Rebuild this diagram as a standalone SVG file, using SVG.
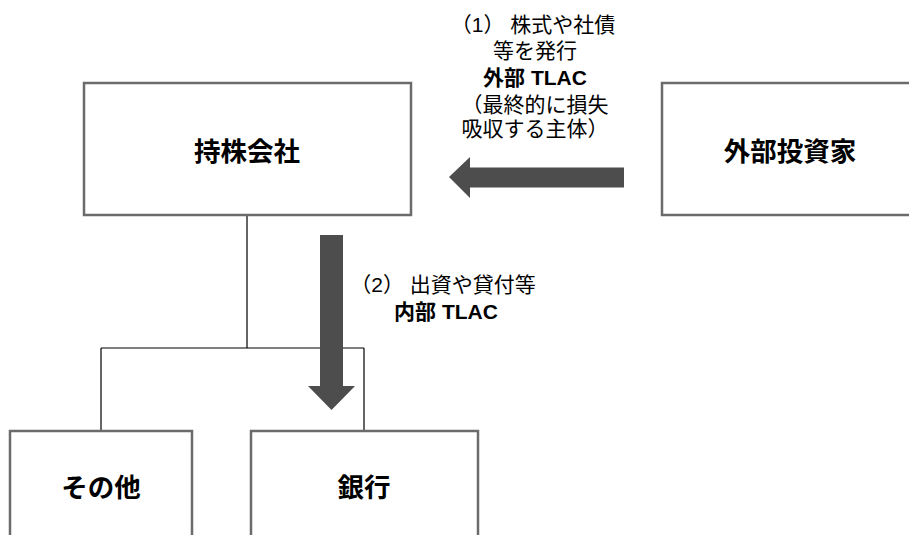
<svg xmlns="http://www.w3.org/2000/svg" width="909" height="535" viewBox="0 0 909 535">
<style>
.box{fill:#fff;stroke:#6b6b6b;stroke-width:2.5}
.lbl{font-family:"Liberation Sans","Noto Sans CJK JP",sans-serif;font-weight:bold;font-size:26.5px;fill:#000;text-anchor:middle;dominant-baseline:central}
.txt{font-family:"Liberation Sans","Noto Sans CJK JP",sans-serif;font-size:21px;fill:#000;text-anchor:middle}
.b{font-weight:bold}
.conn{stroke:#000;stroke-width:1.2;fill:none}
.arr{fill:#4d4d4d}
</style>
<g id="connectors">
<path class="conn" d="M247,215 V348 M101,348 H364 M101,348 V431 M364,348 V431"/>
<polygon class="arr" points="449,177 470,157 470,167.5 624,167.5 624,187.5 470,187.5 470,198"/>
<polygon class="arr" points="320,235 343,235 343,386 355,386 331.5,410 308,386 320,386"/>
</g>
<g id="holding">
<rect class="box" x="84" y="83" width="327" height="132"/>
<text class="lbl" x="247" y="152">持株会社</text>
</g>
<g id="investor">
<rect class="box" x="662" y="83" width="260" height="132"/>
<text class="lbl" x="790" y="152">外部投資家</text>
</g>
<g id="other">
<rect class="box" x="10" y="431" width="182" height="120"/>
<text class="lbl" x="101" y="488">その他</text>
</g>
<g id="bank">
<rect class="box" x="251" y="431" width="227" height="120"/>
<text class="lbl" x="364" y="488">銀行</text>
</g>
<g id="label1">
<text class="txt" x="533" y="32">（1） 株式や社債</text>
<text class="txt" x="535" y="58">等を発行</text>
<text class="txt b" x="535" y="85">外部 TLAC</text>
<text class="txt" x="535" y="112">（最終的に損失</text>
<text class="txt" x="535" y="136">吸収する主体）</text>
</g>
<g id="label2">
<text class="txt" x="443" y="292">（2） 出資や貸付等</text>
<text class="txt b" x="446" y="319">内部 TLAC</text>
</g>
</svg>
